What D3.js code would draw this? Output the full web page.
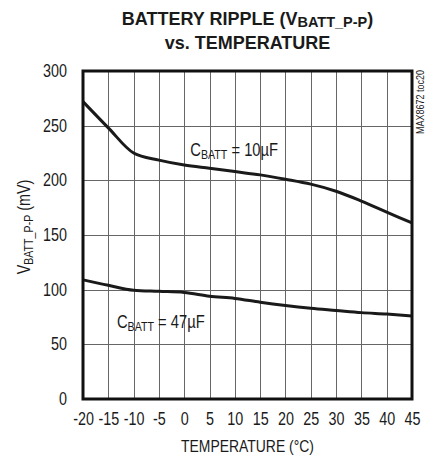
<!DOCTYPE html>
<html>
<head>
<meta charset="utf-8">
<script src="https://cdn.jsdelivr.net/npm/d3@7"></script>
<style>
    body { margin: 0; background: #fff; }
    svg text { fill: #1a1a1a; font-family: 'Liberation Sans', Arial, sans-serif; }
    .title { font-weight: bold; }
</style>
</head>
<body>
<div id="plot"></div>
<script>
// temperature (°C) and ripple (mV)
const temps = [-20, -15, -10, -5, 0, 5, 10, 15, 20, 25, 30, 35, 40, 45];
const ripple10uF = [272, 248, 225, 218.5, 214, 211, 208, 205, 201, 196.5, 190, 181, 171, 161];
const ripple47uF = [109, 104, 99.5, 98.5, 97.5, 94, 92, 88.5, 85.5, 83, 81, 79, 77.7, 76];
const xTicks = [-20, -15, -10, -5, 0, 5, 10, 15, 20, 25, 30, 35, 40, 45];
const yTicks = [0, 50, 100, 150, 200, 250, 300];

// no narrow font installed, so squeeze regular glyphs horizontally
const narrow = 0.82;

let svgWidth = 427;
let svgHeight = 459;
let margin = {top: 71, right: 15, bottom: 60, left: 83};
let width = svgWidth - margin.left - margin.right;
let height = svgHeight - margin.top - margin.bottom;

let svg = d3.select('#plot')
    .append('svg')
    .attr('width', svgWidth)
    .attr('height', svgHeight);

let chart = svg.append('g')
    .attr('transform', 'translate(' + margin.left + ', ' + margin.top + ')');

let xs = d3.scaleLinear().domain([-20, 45]).range([0, width]);
let ys = d3.scaleLinear().domain([0, 300]).range([height, 0]);

// grid
let grid = chart.append('g').attr('class', 'grid');

grid.selectAll('line.vx')
    .data(xTicks.slice(1, -1))
    .enter()
    .append('line')
    .attr('x1', d => Math.round(xs(d)) + 0.5)
    .attr('x2', d => Math.round(xs(d)) + 0.5)
    .attr('y1', 0)
    .attr('y2', height)
    .style('stroke', '#666')
    .style('stroke-width', '1px');

grid.selectAll('line.hy')
    .data(yTicks.slice(1, -1))
    .enter()
    .append('line')
    .attr('x1', 0)
    .attr('x2', width)
    .attr('y1', d => Math.round(ys(d)) + 0.5)
    .attr('y2', d => Math.round(ys(d)) + 0.5)
    .style('stroke', '#666')
    .style('stroke-width', '1px');

// axes: labels only, the frame is drawn separately
let xAxis = d3.axisBottom(xs).tickValues(xTicks).tickFormat(d => String(d)).tickSize(0).tickPadding(14);
let yAxis = d3.axisLeft(ys).tickValues(yTicks).tickFormat(d => String(d)).tickSize(0).tickPadding(16 / narrow);

let gx = chart.append('g')
    .attr('class', 'x axis')
    .attr('transform', 'translate(0, ' + height + ')')
    .call(xAxis);
let gy = chart.append('g')
    .attr('class', 'y axis')
    .call(yAxis);

[gx, gy].forEach(g => {
    g.select('.domain').remove();
    g.selectAll('text')
        .attr('transform', 'scale(' + narrow + ', 1)')
        .style('font-family', "'Liberation Sans', Arial, sans-serif")
        .style('font-size', '17.5px')
        .style('fill', '#1a1a1a');
});

// curves
let line = d3.line()
    .x((d, i) => xs(temps[i]))
    .y(d => ys(d))
    .curve(d3.curveMonotoneX);

[ripple10uF, ripple47uF].forEach(series => {
    chart.append('path')
        .datum(series)
        .attr('d', line)
        .style('fill', 'none')
        .style('stroke', '#1a1a1a')
        .style('stroke-width', '3px')
        .style('stroke-linejoin', 'round');
});

// frame
chart.append('rect')
    .attr('x', 0)
    .attr('y', 0)
    .attr('width', width)
    .attr('height', height)
    .style('fill', 'none')
    .style('stroke', '#111')
    .style('stroke-width', '3px');

// curve labels
function capLabel(x, y, value) {
    let t = chart.append('text')
        .attr('transform', 'translate(' + x + ', ' + y + ') scale(' + narrow + ', 1)')
        .style('font-size', '18px');
    t.append('tspan').text('C');
    t.append('tspan').attr('dy', 3).style('font-size', '13px').text('BATT');
    t.append('tspan').attr('dy', -3).text(' = ' + value + '\u00B5F');
}
capLabel(xs(1.2), ys(222), '10');
capLabel(xs(-13.3), ys(65), '47');

// titles
let title = svg.append('g')
    .attr('class', 'title')
    .style('text-anchor', 'middle');
let t1 = title.append('text')
    .attr('x', margin.left + width / 2)
    .attr('y', 25)
    .style('font-size', '18px');
t1.append('tspan').text('BATTERY RIPPLE (V');
t1.append('tspan').attr('dy', 2).style('font-size', '14.5px').text('BATT_P-P');
t1.append('tspan').attr('dy', -2).text(')');
title.append('text')
    .attr('x', margin.left + width / 2)
    .attr('y', 49)
    .style('font-size', '18px')
    .text('vs. TEMPERATURE');

svg.append('text')
    .attr('transform', 'translate(' + (margin.left + width / 2) + ', 452) scale(' + narrow + ', 1)')
    .style('text-anchor', 'middle')
    .style('font-size', '17px')
    .text('TEMPERATURE (\u00B0C)');

let yl = svg.append('text')
    .attr('transform', 'translate(30, 227) rotate(-90) scale(' + narrow + ', 1)')
    .style('text-anchor', 'middle')
    .style('font-size', '17.5px');
yl.append('tspan').text('V');
yl.append('tspan').attr('dy', 3).style('font-size', '13px').text('BATT_P-P');
yl.append('tspan').attr('dy', -3).text(' (mV)');

svg.append('text')
    .attr('transform', 'translate(424, 70) rotate(-90) scale(' + narrow + ', 1)')
    .style('text-anchor', 'end')
    .style('font-size', '11px')
    .text('MAX8672 toc20');
</script>
</body>
</html>
